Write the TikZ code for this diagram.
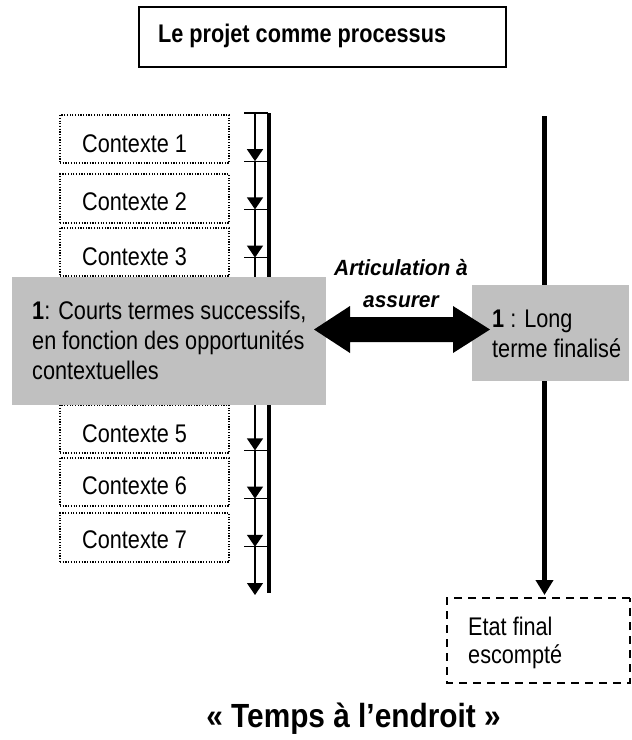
\documentclass[tikz,border=0pt]{standalone}
\usepackage{fontspec}
\setmainfont{Liberation Sans}[FakeStretch=0.85]
\newfontfamily\artfont{Liberation Sans}[FakeStretch=0.95]
\newfontfamily\capfont{Liberation Sans}[FakeStretch=0.89]
\usetikzlibrary{arrows.meta}
\definecolor{boxgray}{RGB}{192,192,192}
\begin{document}
\begin{tikzpicture}[x=1pt,y=-1pt,
  ctxbox/.style={draw, line width=1.2pt, dash pattern=on 1.2pt off 1.5pt, inner sep=0pt, minimum width=169pt},
  graybox/.style={fill=boxgray, draw=none, inner sep=0pt},
  txt/.style={inner sep=0pt, anchor=base west, font=\fontsize{25.5}{30}\selectfont},
  ctxt/.style={txt},
  arttxt/.style={inner sep=0pt, anchor=base, font=\artfont\fontsize{22}{28}\selectfont\bfseries\itshape},
  vseg/.style={line width=1.3pt, -{Triangle[length=12pt 0 0, width=16pt 0 0]}},
  tickline/.style={line width=1.3pt},
]
\useasboundingbox (0,0) rectangle (632,740);

% title box
\node[draw, line width=1.6pt, minimum width=367pt, minimum height=60pt, inner sep=0pt] (title) at (322.5,37) {};
\node[txt, font=\fontsize{25.5}{30}\selectfont\bfseries] (titletxt) at (158,42) {Le projet comme processus};

% context boxes
\node[ctxbox, minimum height=48pt] (c1) at (144.5,139) {};
\node[ctxbox, minimum height=49pt] (c2) at (144.5,198.5) {};
\node[ctxbox, minimum height=48pt] (c3) at (144.5,252) {};
\node[ctxbox, minimum height=48pt] (c5) at (144.5,429) {};
\node[ctxbox, minimum height=48pt] (c6) at (144.5,482) {};
\node[ctxbox, minimum height=49pt] (c7) at (144.5,537.5) {};
\node[ctxt] (c1t) at (82,152) {Contexte 1};
\node[ctxt] (c2t) at (82,210) {Contexte 2};
\node[ctxt] (c3t) at (82,265) {Contexte 3};
\node[ctxt] (c5t) at (82,442) {Contexte 5};
\node[ctxt] (c6t) at (82,494) {Contexte 6};
\node[ctxt] (c7t) at (82,548) {Contexte 7};

% successive short-term arrows
\foreach \k in {0,...,10} {
  \pgfmathsetmacro{\yy}{113+48.2*\k}
  \coordinate (t\k) at (255,\yy);
}
\foreach \k [evaluate=\k as \n using int(\k+1)] in {0,...,9} {
  \draw[vseg] (t\k) -- (t\n);
  \draw[tickline] ([xshift=-11pt]t\k) -- ([xshift=13pt]t\k);
}
\coordinate (ltop) at (269,113);
\coordinate (lbot) at (269,593);
\draw[line width=4pt] (ltop) -- (lbot);

% long-term line
\coordinate (rtop) at (544.5,116);
\coordinate (rbot) at (544.5,595);
\draw[line width=5pt, -{Triangle[length=15pt 0 0, width=17pt 0 0]}] (rtop) -- (rbot);

% final state box
\draw[line width=1.3pt, dash pattern=on 8pt off 6pt] (630,598) -- (447,598) -- (447,683) -- (630,683) -- cycle;
\node[txt] (fin1) at (468,635) {Etat final};
\node[txt] (fin2) at (468,663) {escompté};

% grey boxes
\node[graybox, minimum width=314pt, minimum height=128pt] (L) at (169,341) {};
\node[graybox, minimum width=157pt, minimum height=96pt] (R) at (550.5,333) {};
\node[txt] (l1) at (32,319) {\textbf{1}: Courts termes successifs,};
\node[txt] (l2) at (32,349) {en fonction des opportunités};
\node[txt] (l3) at (32,379) {contextuelles};
\node[txt] (r1) at (492,327) {\textbf{1} : Long};
\node[txt] (r2) at (492,357) {terme finalisé};

% double arrow
\fill (314,329.5) -- (350,306) -- (350,317) -- (453,317) -- (453,306) -- (490,329.5)
  -- (453,353) -- (453,342) -- (350,342) -- (350,353) -- cycle;
\node[arttxt] (a1) at (401,275) {Articulation à};
\node[arttxt] (a2) at (401,307) {assurer};

% bottom caption
\node[inner sep=0pt, anchor=base, font=\capfont\fontsize{33.5}{40}\selectfont\bfseries] (cap) at (353.5,727) {« Temps à l’endroit »};
\end{tikzpicture}
\end{document}
